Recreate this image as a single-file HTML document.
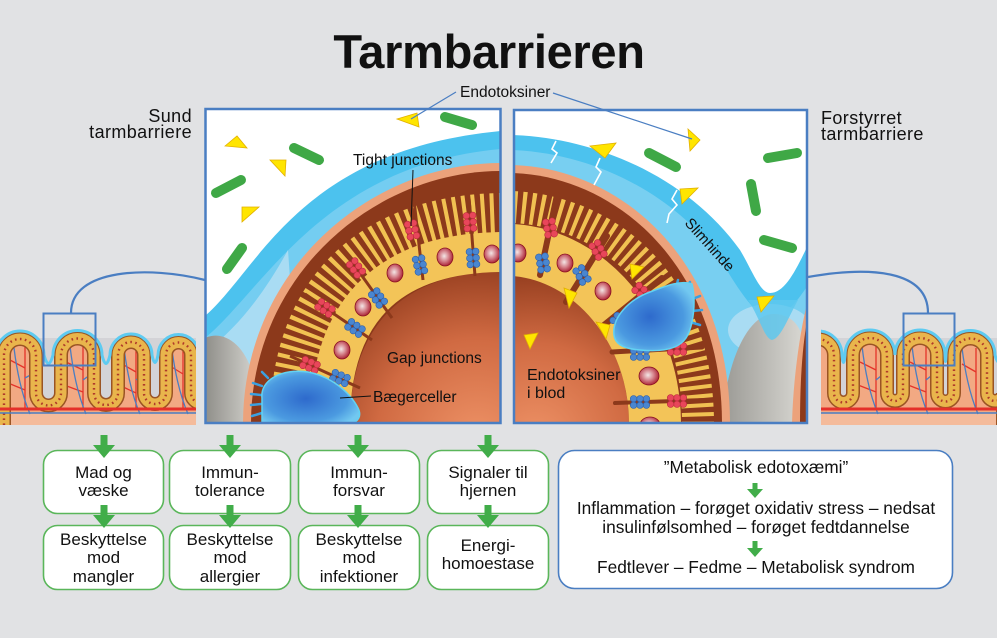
<!DOCTYPE html>
<html><head><meta charset="utf-8">
<style>
html,body{margin:0;padding:0;background:#e1e2e4;}
svg{display:block}
text{font-family:"Liberation Sans",sans-serif;fill:#111;}
</style></head><body>
<svg width="997" height="638" viewBox="0 0 997 638" xmlns="http://www.w3.org/2000/svg" xmlns:xlink="http://www.w3.org/1999/xlink">
<defs>
<clipPath id="cL"><rect x="206.5" y="110" width="293" height="312"/></clipPath>
<clipPath id="cR"><rect x="515" y="111" width="291" height="311"/></clipPath>
<clipPath id="iL"><rect x="0" y="318" width="196" height="107"/></clipPath>
<clipPath id="iR"><rect x="821" y="318" width="176" height="107"/></clipPath>
<radialGradient id="lum" cx="478" cy="440" r="185" gradientUnits="userSpaceOnUse">
<stop offset="0" stop-color="#ee9266"/><stop offset="0.55" stop-color="#d06a42"/><stop offset="1" stop-color="#8f391b"/></radialGradient>
<radialGradient id="lumR" cx="535" cy="440" r="175" gradientUnits="userSpaceOnUse">
<stop offset="0" stop-color="#ee9266"/><stop offset="0.55" stop-color="#d06a42"/><stop offset="1" stop-color="#8f391b"/></radialGradient>
<radialGradient id="nuc" cx="0.45" cy="0.45" r="0.6">
<stop offset="0" stop-color="#f3e6e6"/><stop offset="0.45" stop-color="#d88a92"/><stop offset="1" stop-color="#a5162a"/></radialGradient>
<linearGradient id="grayL" x1="0" x2="1"><stop offset="0" stop-color="#8f8e89"/><stop offset="1" stop-color="#cfcec9"/></linearGradient>
<linearGradient id="grayR" x1="0" x2="1"><stop offset="0" stop-color="#9a9994"/><stop offset="1" stop-color="#d8d7d2"/></linearGradient>
<radialGradient id="gob" cx="0.45" cy="0.5" r="0.6"><stop offset="0" stop-color="#2e6acc"/><stop offset="0.7" stop-color="#4b9ae0"/><stop offset="1" stop-color="#72c8f0"/></radialGradient>
<g id="j"><circle cx="-3.2" cy="-6.4" r="3.3"/><circle cx="3.2" cy="-6.4" r="3.3"/><circle cx="-3.2" cy="0" r="3.3"/><circle cx="3.2" cy="0" r="3.3"/><circle cx="-3.2" cy="6.4" r="3.3"/><circle cx="3.2" cy="6.4" r="3.3"/></g>
</defs>

<rect width="997" height="638" fill="#e1e2e4"/>

<!-- Title -->
<text x="489" y="68" font-size="47" font-weight="bold" text-anchor="middle" letter-spacing="-0.3">Tarmbarrieren</text>

<!-- side labels -->
<text x="192" y="122" font-size="18" text-anchor="end" letter-spacing="0.4">Sund</text>
<text x="192" y="138" font-size="18" text-anchor="end" letter-spacing="0.4">tarmbarriere</text>
<text x="821" y="124" font-size="18" letter-spacing="0.4">Forstyrret</text>
<text x="821" y="140" font-size="18" letter-spacing="0.4">tarmbarriere</text>

<!-- Endotoksiner label -->
<text x="460" y="97" font-size="15.5">Endotoksiner</text>

<!-- connector curves -->
<path d="M71,313 C71,268 150,266 205,280" fill="none" stroke="#4a7ec2" stroke-width="2.2"/>
<path d="M808,277 C870,266 928,270 928,313" fill="none" stroke="#4a7ec2" stroke-width="2.2"/>

<!-- LEFT small intestine -->
<g clip-path="url(#iL)">
<rect x="0" y="338" width="196" height="70" fill="#d3d3d7"/>
<path d="M4,430 V355 A16,16 0 0 1 36,355 V393 A12.5,12.5 0 0 0 61,393 V355 A16.5,16.5 0 0 1 94,355 V393 A12,12 0 0 0 118,393 V355 A13,13 0 0 1 144,355 V393 A11,11 0 0 0 166,393 V355 A12.5,12.5 0 0 1 191,355 V393 A10,10 0 0 0 211,393 V430 Z" fill="#f2a983"/>
<rect x="0" y="413" width="196" height="12" fill="#f4bb9b"/>
<g fill="none" stroke-width="1.3">
<path d="M25,345 V409 M25,368 L10,360 M25,390 L8,383 M83,345 V409 M83,370 L66,362 M83,392 L64,385 M136,348 V409 M136,372 L122,364 M136,393 L121,386 M183,350 V409 M183,374 L170,366" stroke="#e4342a"/>
<path d="M14,348 C18,380 24,400 30,414 M70,346 C74,380 80,400 86,414 M124,348 C128,380 134,400 140,414 M172,350 C176,380 182,400 188,414 M25,378 L36,372 M83,380 L94,372 M136,380 L144,374" stroke="#4a7ec2"/>
</g>
<path d="M4,430 V355 A16,16 0 0 1 36,355 V393 A12.5,12.5 0 0 0 61,393 V355 A16.5,16.5 0 0 1 94,355 V393 A12,12 0 0 0 118,393 V355 A13,13 0 0 1 144,355 V393 A11,11 0 0 0 166,393 V355 A12.5,12.5 0 0 1 191,355 V393 A10,10 0 0 0 211,393 V430" fill="none" stroke="#9a5424" stroke-width="14"/>
<path d="M4,430 V355 A16,16 0 0 1 36,355 V393 A12.5,12.5 0 0 0 61,393 V355 A16.5,16.5 0 0 1 94,355 V393 A12,12 0 0 0 118,393 V355 A13,13 0 0 1 144,355 V393 A11,11 0 0 0 166,393 V355 A12.5,12.5 0 0 1 191,355 V393 A10,10 0 0 0 211,393 V430" fill="none" stroke="#e9b54c" stroke-width="11"/>
<path d="M4,430 V355 A16,16 0 0 1 36,355 V393 A12.5,12.5 0 0 0 61,393 V355 A16.5,16.5 0 0 1 94,355 V393 A12,12 0 0 0 118,393 V355 A13,13 0 0 1 144,355 V393 A11,11 0 0 0 166,393 V355 A12.5,12.5 0 0 1 191,355 V393 A10,10 0 0 0 211,393 V430" fill="none" stroke="#b03a2a" stroke-width="2.4" stroke-dasharray="1.6 3.4"/>
<path d="M-4,355 A24,24 0 0 1 44,355 Q48.5,372 53,355 A24.5,24.5 0 0 1 102,355 Q106,372 110,355 A21,21 0 0 1 152,355 Q155,370 158,355 A20.5,20.5 0 0 1 199,355" fill="none" stroke="#5ecbf1" stroke-width="3"/>
<line x1="0" y1="409" x2="196" y2="409" stroke="#e4302a" stroke-width="3"/>
<line x1="0" y1="413" x2="196" y2="413" stroke="#4a7ec2" stroke-width="1.5"/>
</g>
<rect x="43.5" y="313.5" width="52" height="52" fill="none" stroke="#4a7ec2" stroke-width="2"/>

<!-- RIGHT small intestine -->
<g clip-path="url(#iR)">
<rect x="821" y="338" width="176" height="70" fill="#d3d3d7"/>
<path d="M802,430 V355 A16,16 0 0 1 834,355 V393 A9.5,9.5 0 0 0 853,393 V355 A17,17 0 0 1 887,355 V393 A8,8 0 0 0 903,393 V355 A17,17 0 0 1 937,355 V393 A8.5,8.5 0 0 0 954,393 V355 A16.5,16.5 0 0 1 987,355 V393 A8,8 0 0 0 1003,393 V430 Z" fill="#f2a983"/>
<rect x="821" y="413" width="176" height="12" fill="#f4bb9b"/>
<g fill="none" stroke-width="1.3">
<path d="M876,345 V409 M876,370 L860,362 M876,392 L858,385 M926,345 V409 M926,370 L910,362 M926,392 L908,385 M976,348 V409 M976,372 L962,364" stroke="#e4342a"/>
<path d="M862,346 C866,380 872,400 878,414 M912,346 C916,380 922,400 928,414 M962,348 C966,380 972,400 978,414 M876,380 L886,372 M926,380 L936,372" stroke="#4a7ec2"/>
</g>
<path d="M802,430 V355 A16,16 0 0 1 834,355 V393 A9.5,9.5 0 0 0 853,393 V355 A17,17 0 0 1 887,355 V393 A8,8 0 0 0 903,393 V355 A17,17 0 0 1 937,355 V393 A8.5,8.5 0 0 0 954,393 V355 A16.5,16.5 0 0 1 987,355 V393 A8,8 0 0 0 1003,393 V430" fill="none" stroke="#9a5424" stroke-width="14"/>
<path d="M802,430 V355 A16,16 0 0 1 834,355 V393 A9.5,9.5 0 0 0 853,393 V355 A17,17 0 0 1 887,355 V393 A8,8 0 0 0 903,393 V355 A17,17 0 0 1 937,355 V393 A8.5,8.5 0 0 0 954,393 V355 A16.5,16.5 0 0 1 987,355 V393 A8,8 0 0 0 1003,393 V430" fill="none" stroke="#e9b54c" stroke-width="11"/>
<path d="M802,430 V355 A16,16 0 0 1 834,355 V393 A9.5,9.5 0 0 0 853,393 V355 A17,17 0 0 1 887,355 V393 A8,8 0 0 0 903,393 V355 A17,17 0 0 1 937,355 V393 A8.5,8.5 0 0 0 954,393 V355 A16.5,16.5 0 0 1 987,355 V393 A8,8 0 0 0 1003,393 V430" fill="none" stroke="#b03a2a" stroke-width="2.4" stroke-dasharray="1.6 3.4"/>
<path d="M794,355 A24,24 0 0 1 842,355 Q843.5,370 845,355 A25,25 0 0 1 895,355 A25,25 0 0 1 945,355 Q945.5,368 946,355 A24.5,24.5 0 0 1 995,355 Q999,370 1003,355" fill="none" stroke="#5ecbf1" stroke-width="3"/>
<line x1="821" y1="409" x2="997" y2="409" stroke="#e4302a" stroke-width="3"/>
<line x1="821" y1="413" x2="997" y2="413" stroke="#4a7ec2" stroke-width="1.5"/>
</g>
<rect x="903.5" y="313.5" width="51" height="52" fill="none" stroke="#4a7ec2" stroke-width="2"/>

<!-- LEFT PANEL -->
<g clip-path="url(#cL)">
<rect x="205" y="108" width="296" height="316" fill="#fff"/>
<path d="M205,316 C260,268 300,150 501,131 L501,424 L205,424 Z" fill="#4cc2ee"/>
<path d="M205,338 C262,292 322,165 501,149 L501,424 L205,424 Z" fill="#74cdf1"/>
<path d="M205,352 C238,328 265,292 288,250 L300,424 L205,424 Z" fill="#a9dcf3"/>
<path d="M205,338 C222,330 243,342 252,372 L248,424 L205,424 Z" fill="url(#grayL)"/>
<path d="M243,424 C243,270 370,163 501,163 L501,424 Z" fill="#eca27b"/>
<path d="M251,424 C251,276 373,171 501,171 L501,424 Z" fill="#8c391b"/>
<path d="M350,424 C350,318 412,272 501,272 L501,424 Z" fill="url(#lum)"/>
<path d="M292,424 C292,282 382,215 505,215" fill="none" stroke="#f1c152" stroke-width="44" stroke-dasharray="4 5"/>
<path d="M330,424 C330,300 400,252 505,252" fill="none" stroke="#f3c458" stroke-width="40"/>
<g stroke="#8c391b" stroke-width="3">
<line x1="414" y1="200" x2="423" y2="280"/>
<line x1="469" y1="198" x2="475" y2="276"/>
<line x1="340" y1="245" x2="392" y2="318"/>
<line x1="305" y1="294" x2="372" y2="340"/>
<line x1="290" y1="356" x2="360" y2="388"/>
</g>
<g fill="url(#nuc)" stroke="#8a1020" stroke-width="0.8">
<ellipse cx="342" cy="350" rx="8" ry="9"/>
<ellipse cx="363" cy="307" rx="8" ry="9"/>
<ellipse cx="395" cy="273" rx="8" ry="9"/>
<ellipse cx="445" cy="257" rx="8" ry="9"/>
<ellipse cx="492" cy="254" rx="8" ry="9"/>
</g>
<g stroke-width="0.6">
<use xlink:href="#j" fill="#e8465a" stroke="#b82a3c" transform="translate(412,230) rotate(-13)"/>
<use xlink:href="#j" fill="#4a86d0" stroke="#2c5ea8" transform="translate(420,265) rotate(-13)"/>
<use xlink:href="#j" fill="#e8465a" stroke="#b82a3c" transform="translate(470,222) rotate(-4)"/>
<use xlink:href="#j" fill="#4a86d0" stroke="#2c5ea8" transform="translate(473,258) rotate(-4)"/>
<use xlink:href="#j" fill="#e8465a" stroke="#b82a3c" transform="translate(356,268) rotate(-36)"/>
<use xlink:href="#j" fill="#4a86d0" stroke="#2c5ea8" transform="translate(378,298) rotate(-36)"/>
<use xlink:href="#j" fill="#e8465a" stroke="#b82a3c" transform="translate(325,308) rotate(-56)"/>
<use xlink:href="#j" fill="#4a86d0" stroke="#2c5ea8" transform="translate(355,328) rotate(-56)"/>
<use xlink:href="#j" fill="#e8465a" stroke="#b82a3c" transform="translate(310,365) rotate(-67)"/>
<use xlink:href="#j" fill="#4a86d0" stroke="#2c5ea8" transform="translate(340,378) rotate(-67)"/>
</g>
<g stroke="#3aa0e0" stroke-width="2.5" stroke-linecap="round">
<line x1="262" y1="386" x2="253" y2="383"/><line x1="261" y1="395" x2="251" y2="394"/>
<line x1="261" y1="404" x2="251" y2="405"/><line x1="262" y1="413" x2="252" y2="416"/>
<line x1="268" y1="378" x2="262" y2="372"/>
</g>
<path d="M262,398 C260,380 282,368 308,372 C330,376 350,392 358,408 C364,420 352,426 340,426 L262,426 Z" fill="url(#gob)" stroke="#62d2f2" stroke-width="1.5"/>
<!-- bacteria -->
<g stroke="#3fa846" stroke-width="10" stroke-linecap="round">
<line x1="445" y1="117" x2="472" y2="125"/>
<line x1="294" y1="148" x2="319" y2="160"/>
<line x1="216" y1="193" x2="241" y2="180"/>
<line x1="227" y1="269" x2="242" y2="248"/>
</g>
<g fill="#ffe500" stroke="#e2b000" stroke-width="0.8">
<polygon points="397,119 417,113 419,127"/>
<polygon points="225,146 237,136 247,148"/>
<polygon points="270,160 286,160 285,176"/>
<polygon points="242,207 259,207 242,222"/>
</g>
</g>
<rect x="205.5" y="109" width="295" height="314" fill="none" stroke="#4a7ec2" stroke-width="2.5"/>

<!-- RIGHT PANEL -->
<g clip-path="url(#cR)">
<rect x="513" y="108" width="296" height="316" fill="#fff"/>
<path d="M513,135 C600,138 690,180 740,250 C752,270 760,293 770,293 C785,293 796,270 808,245 L808,424 L513,424 Z" fill="#4cc2ee"/>
<path d="M513,150 C605,154 690,205 728,272 C745,300 760,318 770,318 C785,318 798,300 808,285 L808,424 L513,424 Z" fill="#78cff1"/>
<ellipse cx="770" cy="330" rx="42" ry="26" fill="#a9dcf3"/>
<path d="M722,424 C726,360 748,316 772,314 C792,313 803,328 803,345 L800,424 Z" fill="url(#grayR)"/>
<path d="M748,300 C760,318 764,338 772,340 C781,338 788,318 798,300 Z" fill="#5ec8ef" opacity="0.85"/>
<path d="M808,300 C800,330 793,380 792,424 L808,424 Z" fill="#eca27b"/>
<path d="M808,316 C802,345 800,385 800,424 L808,424 Z" fill="#8c391b"/>
<path d="M513,165 C620,168 730,260 730,424 L513,424 Z" fill="#eca27b"/>
<path d="M513,173 C615,176 722,265 722,424 L513,424 Z" fill="#8c391b"/>
<path d="M513,276 C575,281 628,340 629,424 L513,424 Z" fill="url(#lumR)"/>
<path d="M513,207 C610,212 698,285 698,424" fill="none" stroke="#f1c152" stroke-width="32" stroke-dasharray="4 5"/>
<path d="M513,250 C590,255 655,330 655,424" fill="none" stroke="#f3c458" stroke-width="52"/>
<g stroke="#8c391b" stroke-linecap="round">
<line x1="557" y1="195" x2="540" y2="275" stroke-width="6"/>
<line x1="607" y1="236" x2="566" y2="302" stroke-width="6"/>
<line x1="662" y1="278" x2="604" y2="325" stroke-width="6"/>
<line x1="612" y1="352" x2="702" y2="347" stroke-width="5"/>
<line x1="615" y1="403" x2="705" y2="400" stroke-width="4"/>
</g>
<g fill="url(#nuc)" stroke="#8a1020" stroke-width="0.8">
<ellipse cx="518" cy="253" rx="8" ry="9"/>
<ellipse cx="565" cy="263" rx="8" ry="9"/>
<ellipse cx="603" cy="291" rx="8" ry="9"/>
<ellipse cx="649" cy="376" rx="10" ry="9"/>
<ellipse cx="650" cy="425" rx="10" ry="8"/>
</g>
<g stroke-width="0.6">
<use xlink:href="#j" fill="#e8465a" stroke="#b82a3c" transform="translate(550,228) rotate(-10)"/>
<use xlink:href="#j" fill="#4a86d0" stroke="#2c5ea8" transform="translate(543,263) rotate(-10)"/>
<use xlink:href="#j" fill="#e8465a" stroke="#b82a3c" transform="translate(598,250) rotate(-30)"/>
<use xlink:href="#j" fill="#4a86d0" stroke="#2c5ea8" transform="translate(582,275) rotate(-30)"/>
<use xlink:href="#j" fill="#e8465a" stroke="#b82a3c" transform="translate(642,292) rotate(-50)"/>
<use xlink:href="#j" fill="#4a86d0" stroke="#2c5ea8" transform="translate(620,322) rotate(-50)"/>
<use xlink:href="#j" fill="#4a86d0" stroke="#2c5ea8" transform="translate(640,354) rotate(90)"/>
<use xlink:href="#j" fill="#e8465a" stroke="#b82a3c" transform="translate(677,349) rotate(90)"/>
<use xlink:href="#j" fill="#4a86d0" stroke="#2c5ea8" transform="translate(640,402) rotate(90)"/>
<use xlink:href="#j" fill="#e8465a" stroke="#b82a3c" transform="translate(677,401) rotate(90)"/>
</g>
<g stroke="#3aa0e0" stroke-width="2.5" stroke-linecap="round">
<line x1="684" y1="290" x2="690" y2="282"/><line x1="690" y1="300" x2="700" y2="296"/>
<line x1="692" y1="311" x2="702" y2="310"/><line x1="690" y1="322" x2="700" y2="325"/>
<line x1="676" y1="288" x2="678" y2="280"/>
</g>
<path d="M614,335 C612,318 628,300 650,292 C668,285 682,280 692,284 C696,300 694,325 686,338 C678,350 660,352 640,350 C625,349 615,345 614,335 Z" fill="url(#gob)" stroke="#62d2f2" stroke-width="1.5"/>
<!-- mucus cracks -->
<g fill="none" stroke="#fff" stroke-width="1.6">
<path d="M556,141 L552,149 L557,153 L551,163"/>
<path d="M600,158 L596,167 L601,172 L594,185"/>
<path d="M677,190 L672,199 L677,205 L669,214 L667,223"/>
</g>
<!-- bacteria -->
<g stroke="#3fa846" stroke-width="10" stroke-linecap="round">
<line x1="649" y1="153" x2="676" y2="167"/>
<line x1="768" y1="158" x2="797" y2="153"/>
<line x1="751" y1="184" x2="756" y2="211"/>
<line x1="764" y1="240" x2="792" y2="248"/>
</g>
<g fill="#ffe500" stroke="#e2b000" stroke-width="0.8">
<polygon points="688,129 700,140 690,151"/>
<polygon points="590,146 616,143 605,158"/>
<polygon points="680,189 698,188 682,204"/>
<polygon points="630,264 644,267 632,279"/>
<polygon points="564,288 577,293 569,308"/>
<polygon points="596,322 610,325 606,339"/>
<polygon points="524,335 538,333 530,349"/>
<polygon points="757,297 774,296 761,312"/>
</g>
<text x="527" y="380" font-size="16">Endotoksiner</text>
<text x="527" y="398" font-size="16">i blod</text>
<text transform="translate(706,248) rotate(48)" font-size="15" text-anchor="middle">Slimhinde</text>
</g>
<rect x="514" y="110" width="293" height="313" fill="none" stroke="#4a7ec2" stroke-width="2.5"/>

<!-- pointer lines -->
<line x1="456" y1="92" x2="411" y2="119" stroke="#4a7ec2" stroke-width="1.2"/>
<line x1="553" y1="93" x2="692" y2="139" stroke="#4a7ec2" stroke-width="1.2"/>
<line x1="413" y1="170" x2="411" y2="226" stroke="#111" stroke-width="1"/>
<line x1="340" y1="398" x2="371" y2="396" stroke="#111" stroke-width="1"/>

<!-- panel labels -->
<text x="353" y="165" font-size="15.5">Tight junctions</text>
<text x="387" y="363" font-size="15.5">Gap junctions</text>
<text x="373" y="402" font-size="15.5">Bægerceller</text>

<!-- Bottom boxes -->
<g fill="#fff" stroke="#5ab65a" stroke-width="1.6">
<rect x="43.5" y="450.5" width="120" height="63" rx="14"/>
<rect x="169.5" y="450.5" width="121" height="63" rx="14"/>
<rect x="298.5" y="450.5" width="121" height="63" rx="14"/>
<rect x="427.5" y="450.5" width="121" height="63" rx="14"/>
<rect x="43.5" y="525.5" width="120" height="64" rx="14"/>
<rect x="169.5" y="525.5" width="121" height="64" rx="14"/>
<rect x="298.5" y="525.5" width="121" height="64" rx="14"/>
<rect x="427.5" y="525.5" width="121" height="64" rx="14"/>
</g>
<rect x="558.5" y="450.5" width="394" height="138" rx="16" fill="#fff" stroke="#4a7ec2" stroke-width="1.6"/>

<!-- green arrows -->
<g fill="#41ad49">
<path d="M100.5,435 h7 v10 h7.5 l-11,13 l-11,-13 h7.5 z"/>
<path d="M226.5,435 h7 v10 h7.5 l-11,13 l-11,-13 h7.5 z"/>
<path d="M354.5,435 h7 v10 h7.5 l-11,13 l-11,-13 h7.5 z"/>
<path d="M484.5,435 h7 v10 h7.5 l-11,13 l-11,-13 h7.5 z"/>
<path d="M100.5,505 h7 v10 h7.5 l-11,13 l-11,-13 h7.5 z"/>
<path d="M226.5,505 h7 v10 h7.5 l-11,13 l-11,-13 h7.5 z"/>
<path d="M354.5,505 h7 v10 h7.5 l-11,13 l-11,-13 h7.5 z"/>
<path d="M484.5,505 h7 v10 h7.5 l-11,13 l-11,-13 h7.5 z"/>
<path d="M752.5,483 h5 v6 h5.5 l-8,9 l-8,-9 h5.5 z"/>
<path d="M752.5,541 h5 v7 h5.5 l-8,9 l-8,-9 h5.5 z"/>
</g>

<g font-size="17" text-anchor="middle">
<text x="103.5" y="478">Mad og</text><text x="103.5" y="496">væske</text>
<text x="230" y="478">Immun-</text><text x="230" y="496">tolerance</text>
<text x="359" y="478">Immun-</text><text x="359" y="496">forsvar</text>
<text x="488" y="478">Signaler til</text><text x="488" y="496">hjernen</text>
<text x="103.5" y="545">Beskyttelse</text><text x="103.5" y="563">mod</text><text x="103.5" y="582">mangler</text>
<text x="230" y="545">Beskyttelse</text><text x="230" y="563">mod</text><text x="230" y="582">allergier</text>
<text x="359" y="545">Beskyttelse</text><text x="359" y="563">mod</text><text x="359" y="582">infektioner</text>
<text x="488" y="551">Energi-</text><text x="488" y="569">homoestase</text>
</g>
<g font-size="17.3" text-anchor="middle">
<text x="756" y="473">”Metabolisk edotoxæmi”</text>
<text x="756" y="514">Inflammation – forøget oxidativ stress – nedsat</text>
<text x="756" y="533">insulinfølsomhed – forøget fedtdannelse</text>
<text x="756" y="573">Fedtlever – Fedme – Metabolisk syndrom</text>
</g>
</svg>
</body></html>
